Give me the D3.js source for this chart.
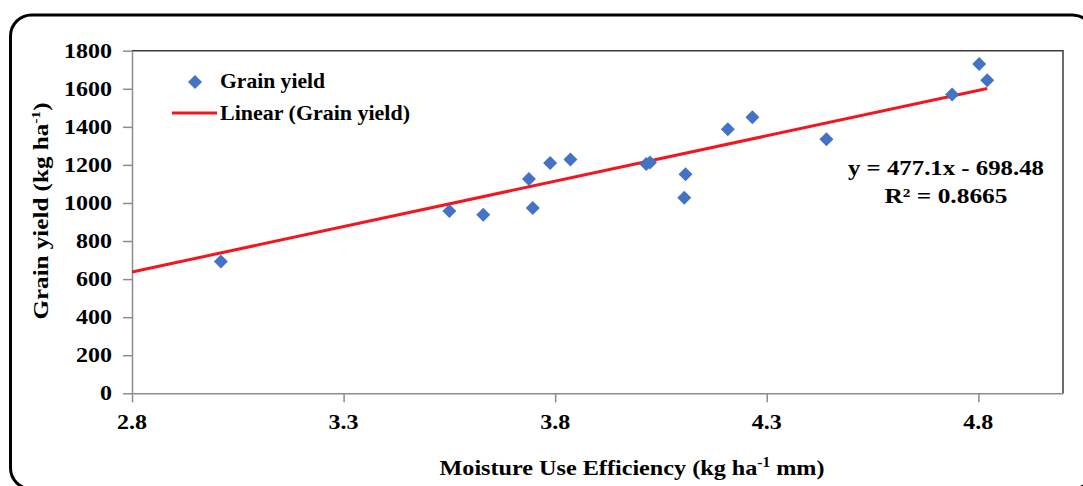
<!DOCTYPE html>
<html>
<head>
<meta charset="utf-8">
<script src="https://cdn.jsdelivr.net/npm/d3@7"></script>
<style>
  body { margin: 0; background: #fff; }
  svg { display: block; }
  text { font-family: "Liberation Serif", "Times New Roman", serif; font-weight: bold; fill: #000; }
</style>
</head>
<body>
<svg id="chart" width="1083" height="486"></svg>
<script>
// Moisture use efficiency (kg ha-1 mm) and grain yield (kg ha-1) per observation
const moistureUseEfficiency = [3.01, 3.55, 3.63, 3.738, 3.747, 3.788, 3.836, 4.015, 4.024, 4.105, 4.108, 4.208, 4.266, 4.441, 4.738, 4.802, 4.821];
const grainYield = [692, 958, 938, 1126, 974, 1210, 1229, 1205, 1212, 1028, 1151, 1387, 1450, 1335, 1570, 1730, 1645];

// Linear trendline fitted to the series
const trendSlope = 477.1;
const trendIntercept = -698.48;
const trendLabel = "y = 477.1x - 698.48";
const r2Label = "R\u00B2 = 0.8665";

// Axis ticks
const xTicks = [2.8, 3.3, 3.8, 4.3, 4.8];
const yTicks = [0, 200, 400, 600, 800, 1000, 1200, 1400, 1600, 1800];
const xDomain = [2.8, 5.0];
const yDomain = [0, 1800];

const svg = d3.select("#chart");
const plot = { left: 132, right: 1063, top: 50.7, bottom: 393.3 };

const x = d3.scaleLinear().domain(xDomain).range([plot.left, plot.right]);
const y = d3.scaleLinear().domain(yDomain).range([plot.bottom, plot.top]);

// Rounded outer frame
svg.append("rect")
  .attr("x", 10.5).attr("y", 15)
  .attr("width", 1083).attr("height", 474)
  .attr("rx", 21).attr("ry", 21)
  .attr("fill", "#fff").attr("stroke", "#000").attr("stroke-width", 3);

// Plot area border (top and right)
svg.append("path")
  .attr("d", `M${plot.left},${plot.top}H${plot.right}V${plot.bottom}`)
  .attr("fill", "none").attr("stroke", "#3c3c3c").attr("stroke-width", 1.5);

const axisColor = "#8c8c8c";
const gy = svg.append("g")
  .attr("transform", `translate(${plot.left},0)`)
  .call(d3.axisLeft(y).tickValues(yTicks).tickSize(9).tickSizeOuter(0).tickFormat(""));
const gx = svg.append("g")
  .attr("transform", `translate(0,${plot.bottom})`)
  .call(d3.axisBottom(x).tickValues(xTicks).tickSize(9).tickSizeOuter(0).tickFormat(""));
[gy, gx].forEach(g => {
  g.selectAll("path, line").attr("stroke", axisColor).attr("stroke-width", 1.5);
});

// Wide bold labels: horizontally stretched serif text
function wideText(parent, px, py, str, size, anchor, sx) {
  const g = parent.append("g").attr("transform", `translate(${px},${py}) scale(${sx},1)`);
  return g.append("text").attr("font-size", size).attr("text-anchor", anchor).text(str);
}

const tickSx = 1.2;
yTicks.forEach(v => {
  wideText(svg, plot.left - 20, y(v) + 7, d3.format("d")(v), 20, "end", tickSx);
});
xTicks.forEach(v => {
  wideText(svg, x(v), 429, d3.format(".1f")(v), 20, "middle", tickSx);
});

// Trendline drawn from the fitted equation
const trendX = [xDomain[0], d3.max(moistureUseEfficiency)];
svg.append("line")
  .attr("x1", x(trendX[0])).attr("y1", y(trendSlope * trendX[0] + trendIntercept))
  .attr("x2", x(trendX[1])).attr("y2", y(trendSlope * trendX[1] + trendIntercept))
  .attr("stroke", "#f2161e").attr("stroke-width", 3);

// Diamond markers
const diamond = d3.symbol().type(d3.symbolSquare).size(98);
svg.append("g").selectAll("path")
  .data(moistureUseEfficiency.map((m, i) => [m, grainYield[i]]))
  .join("path")
  .attr("d", diamond)
  .attr("transform", d => `translate(${x(d[0])},${y(d[1])}) rotate(45)`)
  .attr("fill", "#4472c4");

// Legend
const legend = svg.append("g");
legend.append("path")
  .attr("d", diamond)
  .attr("transform", "translate(195,82) rotate(45)")
  .attr("fill", "#4472c4");
legend.append("text").attr("x", 220).attr("y", 88).attr("font-size", 21)
  .attr("textLength", 105).attr("lengthAdjust", "spacingAndGlyphs").text("Grain yield");
legend.append("line").attr("x1", 172).attr("x2", 217).attr("y1", 113).attr("y2", 113)
  .attr("stroke", "#f2161e").attr("stroke-width", 3);
legend.append("text").attr("x", 220).attr("y", 120).attr("font-size", 21)
  .attr("textLength", 190).attr("lengthAdjust", "spacingAndGlyphs").text("Linear (Grain yield)");

// Trendline equation
svg.append("text").attr("x", 946).attr("y", 175).attr("font-size", 21).attr("text-anchor", "middle")
  .attr("textLength", 196).attr("lengthAdjust", "spacingAndGlyphs").text(trendLabel);
svg.append("text").attr("x", 946).attr("y", 203).attr("font-size", 21).attr("text-anchor", "middle")
  .attr("textLength", 123).attr("lengthAdjust", "spacingAndGlyphs").text(r2Label);

// Axis titles
const xTitle = svg.append("text").attr("x", 632).attr("y", 475).attr("font-size", 22)
  .attr("text-anchor", "middle").attr("textLength", 385).attr("lengthAdjust", "spacingAndGlyphs");
xTitle.append("tspan").text("Moisture Use Efficiency (kg ha");
xTitle.append("tspan").attr("font-size", 14).attr("dy", -8).text("-1");
xTitle.append("tspan").attr("dy", 8).text(" mm)");

const yTitle = svg.append("text").attr("transform", "translate(48,211) rotate(-90)").attr("font-size", 21)
  .attr("text-anchor", "middle").attr("textLength", 217).attr("lengthAdjust", "spacingAndGlyphs");
yTitle.append("tspan").text("Grain yield (kg ha");
yTitle.append("tspan").attr("font-size", 13).attr("dy", -8).text("-1");
yTitle.append("tspan").attr("dy", 8).text(")");
</script>
</body>
</html>
